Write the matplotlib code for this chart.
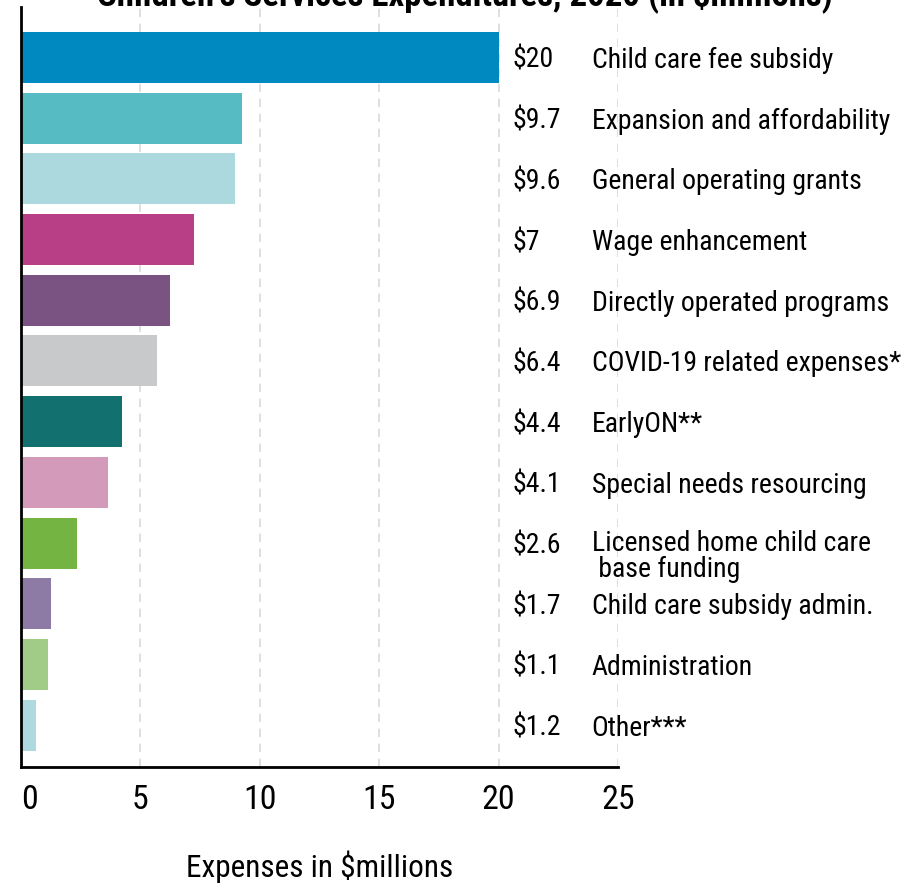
import matplotlib
matplotlib.use("Agg")
import matplotlib.pyplot as plt
from matplotlib import font_manager

# pick a condensed face if one is installed
names = {f.name for f in font_manager.fontManager.ttflist}
family = 'DejaVu Sans'
for cand in ['Roboto Condensed', 'Liberation Sans Narrow', 'DejaVu Sans']:
    if cand in names:
        family = cand
        break
plt.rcParams['font.family'] = family

categories = ['Child care fee subsidy', 'Expansion and affordability',
              'General operating grants', 'Wage enhancement',
              'Directly operated programs', 'COVID-19 related expenses*',
              'EarlyON**', 'Special needs resourcing',
              'Licensed home child care\n base funding',
              'Child care subsidy admin.', 'Administration', 'Other***']
bar_values = [20.0, 9.25, 8.96, 7.24, 6.24, 5.70, 4.23, 3.63, 2.35, 1.26, 1.13, 0.63]
value_labels = ['$20', '$9.7', '$9.6', '$7', '$6.9', '$6.4', '$4.4', '$4.1',
                '$2.6', '$1.7', '$1.1', '$1.2']
colors = ['#0088c1', '#56bbc2', '#acd9de', '#b83f86', '#7a5383', '#c8c9cb',
          '#12706e', '#d49ab9', '#73b443', '#8d7ba6', '#a0cc88', '#aed9df']
xticks = [0, 5, 10, 15, 20, 25]

W, H = 913, 885
fig = plt.figure(figsize=(W / 100, H / 100), dpi=100)
ax = fig.add_axes([21 / W, 1 - 767 / H, (618 - 21) / W, (767 - 7) / H])

pos = list(range(len(categories)))
ax.barh(pos, bar_values, height=0.84, color=colors, zorder=2)

ax.set_xlim(0, 25)
ax.set_ylim(len(categories) - 1 + 0.69, -0.83)

ax.set_xticks(xticks)
ax.set_xticklabels([str(t) for t in xticks], fontsize=24.5)
ax.get_xticklabels()[0].set_horizontalalignment('left')
ax.tick_params(axis='x', length=0, pad=12)
ax.set_yticks([])

ax.grid(axis='x', color='#d9d9d9', linestyle=(0, (5, 4)), linewidth=1.2, zorder=0)
for s in ['top', 'right']:
    ax.spines[s].set_visible(False)
ax.spines['left'].set_linewidth(2)
ax.spines['bottom'].set_linewidth(2)

for i, (v, name) in enumerate(zip(value_labels, categories)):
    va = 'center'
    y = i + 0.05
    if '\n' in name:
        y = i - 0.22
        va = 'top'
    ax.text(20.6, i + 0.05, v, fontsize=20, va='center', ha='left', clip_on=False)
    ax.text(23.9, y, name, fontsize=20, va=va, ha='left', clip_on=False,
            linespacing=0.95)

ax.set_xlabel('Expenses in $millions', fontsize=22.5, labelpad=25)

fig.text(465 / W, 1 - 5 / H, "Children's Services Expenditures, 2020 (in $millions)",
         fontsize=25, fontweight='bold', ha='center', va='baseline')

fig.savefig('out.png', dpi=100)
